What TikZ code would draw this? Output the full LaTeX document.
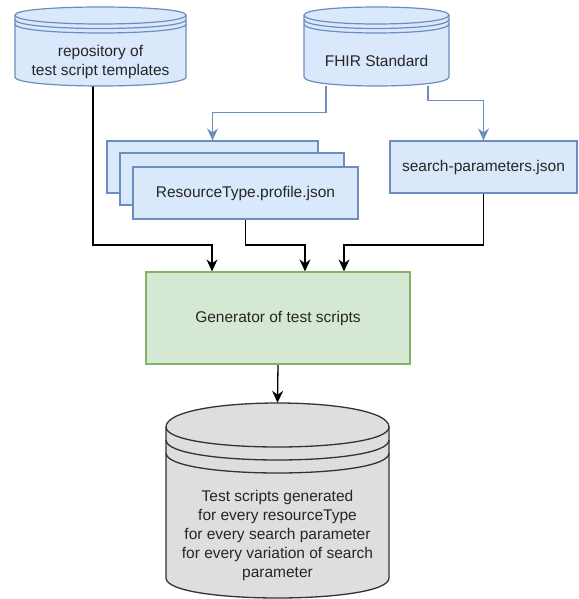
\documentclass[tikz,border=0pt]{standalone}
\usepackage{fontspec}
\setmainfont{Liberation Sans}
\usetikzlibrary{arrows.meta,fit,backgrounds}

\definecolor{blueFill}{HTML}{DAE8FC}
\definecolor{blueLine}{HTML}{6C8EBF}
\definecolor{greenFill}{HTML}{D5E8D4}
\definecolor{greenLine}{HTML}{82B366}
\definecolor{grayFill}{HTML}{DEDEDE}
\definecolor{grayLine}{HTML}{333333}

% cylinder with three rings under the lid
% #1 style, #2 left, #3 right, #4 lid y, #5 base y, #6 lid bulge, #7 ring/base bulge, #8 ring gap
\newcommand{\datastore}[8]{%
  \path[#1] (#2,#4) .. controls (#2,{#4-1.333*#6}) and (#3,{#4-1.333*#6}) .. (#3,#4)
    -- (#3,#5) .. controls (#3,{#5+1.333*#7}) and (#2,{#5+1.333*#7}) .. (#2,#5) -- cycle;
  \foreach \k in {0,1,2}
    \draw[#1, fill=none] (#2,{#4+\k*#8}) .. controls (#2,{#4+\k*#8+1.333*#7})
      and (#3,{#4+\k*#8+1.333*#7}) .. (#3,{#4+\k*#8});
}

\tikzset{
  bluestore/.style={draw=blueLine, fill=blueFill, line width=1.2pt},
  graystore/.style={draw=grayLine, fill=grayFill, line width=1.3pt},
  doc/.style={draw=blueLine, fill=blueFill, line width=1.2pt, inner sep=0pt},
  genbox/.style={draw=greenLine, fill=greenFill, line width=1.2pt, inner sep=0pt},
  label/.style={text=black!85, align=center},
  flow/.style={draw=black, line width=1.3pt, -{Stealth[length=12pt,width=11pt,inset=4pt]}},
  feed/.style={draw=blueLine, line width=1.3pt, -{Stealth[length=12pt,width=11pt,inset=4pt]}},
}

\begin{document}
\begin{tikzpicture}[x=1pt, y=-1pt, font=\fontsize{15.5}{19}\selectfont]
  \useasboundingbox (0,0) rectangle (578,599);

  % sources
  \datastore{bluestore}{15}{186}{15}{77}{8}{9}{4.5}
  \node[fit={(15,7) (186,86)}, inner sep=0pt] (repo) {};
  \node[label] (repo-text) at (100.5,62) {repository of\\test script templates};

  \datastore{bluestore}{304}{449}{15}{77}{8}{9}{4.5}
  \node[fit={(304,7) (449,86)}, inner sep=0pt] (fhir) {};
  \node[label] (fhir-text) at (376.5,61) {FHIR Standard};

  % profile files, back to front
  \node[doc, minimum width=211pt, minimum height=52pt] (profile-back) at (212.5,167) {};
  \node[doc, minimum width=224pt, minimum height=52pt] (profile-mid) at (232,179) {};
  \node[doc, minimum width=225pt, minimum height=52pt, label] (profile) at (245.5,193) {ResourceType.profile.json};

  \node[doc, minimum width=187pt, minimum height=52pt, label] (search) at (483.5,167) {search-parameters.json};

  \node[genbox, minimum width=264pt, minimum height=92pt, label] (gen) at (278,318) {Generator of test scripts};

  % output store
  \datastore{graystore}{166}{389}{427}{578}{24}{20}{13}
  \node[fit={(166,403) (389,598)}, inner sep=0pt] (out) {};
  \node[label] (out-text) at (277.5,535) {Test scripts generated\\for every resourceType\\for every search parameter\\for every variation of search\\parameter};

  \coordinate (row) at (0,245);
  \coordinate (in1) at ([xshift=-66pt]gen.north);
  \coordinate (in2) at ([xshift=27pt]gen.north);
  \coordinate (in3) at ([xshift=66pt]gen.north);

  \begin{scope}[on background layer]
    \draw[feed] ([xshift=-50.5pt]fhir.south) |- ([yshift=28pt]profile-back.north) -- (profile-back.north);
    \draw[feed] ([xshift=51.5pt]fhir.south) |- ([yshift=40pt]search.north) -- (search.north);
    \draw[flow] ([xshift=-7.5pt]repo.south) |- (row -| in1) -- (in1);
    \draw[flow] (profile.south) |- (row -| in2) -- (in2);
    \draw[flow] (search.south) |- (row -| in3) -- (in3);
    \draw[flow] (gen.south) -- (out.north);
  \end{scope}
\end{tikzpicture}
\end{document}
